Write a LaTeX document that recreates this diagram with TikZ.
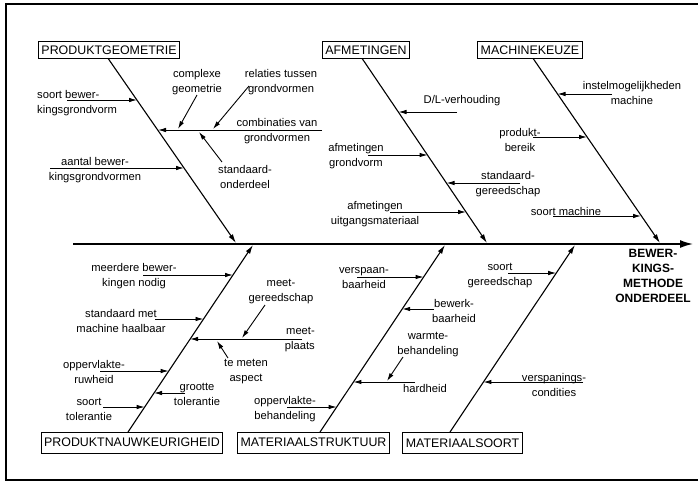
\documentclass[tikz,border=0pt]{standalone}
\usepackage{fontspec}
\setmainfont{Liberation Sans}
\usetikzlibrary{arrows.meta}
\begin{document}
\begin{tikzpicture}[x=1pt,y=-1pt,
  cause/.style={draw, line width=0.9pt, inner xsep=3pt, inner ysep=0pt, font=\fontsize{12.4}{14}\selectfont},
  causeup/.style={cause, minimum height=16.5pt},
  causedown/.style={cause, minimum height=21pt},
  lbl/.style={align=center, inner sep=0pt, font=\fontsize{11.2}{15}\selectfont},
  bone/.style={line width=1.1pt, -{Latex[length=9pt,width=5pt]}},
  sub/.style={line width=0.9pt, -{Latex[length=8pt,width=4.5pt]}},
  ]
\useasboundingbox (0,0) rectangle (698,482);
% frame
\draw[line width=1.5pt] (698,4) -- (6,4) -- (6,480) -- (698,480);

% spine
\coordinate (spS) at (73,244);
\coordinate (spE) at (693,244);
\draw[line width=1.6pt, -{Latex[length=13pt,width=8pt]}] (spS) -- (spE);
\node[font=\bfseries\fontsize{12}{15}\selectfont, align=center, inner sep=0pt] (eff) at (653,275.5) {BEWER-\\KINGS-\\METHODE\\ONDERDEEL};

% ---------- PRODUKTGEOMETRIE ----------
\node[causeup] (pg) at (109,50) {PRODUKTGEOMETRIE};
\coordinate (gS) at (108,58.3); \coordinate (gE) at (236,243);
\draw[bone] (gS) -- (gE);
\node[lbl, align=left, anchor=west] (g1) at (37,103) {soort bewer-\\kingsgrondvorm};
\coordinate (g1s) at (67,100); \coordinate (g1e) at (137,100);
\draw[sub] (g1s) -- (g1e);
\node[lbl] (g2) at (95,170.5) {aantal bewer-\\kingsgrondvormen};
\coordinate (g2s) at (50,168); \coordinate (g2e) at (184,168);
\draw[sub] (g2s) -- (g2e);
\node[lbl] (g3) at (277,131.5) {combinaties van\\grondvormen};
\coordinate (g3s) at (322,130); \coordinate (g3e) at (158,130);
\draw[sub] (g3s) -- (g3e);
\node[lbl] (g4) at (197,82) {complexe\\geometrie};
\coordinate (g4s) at (197,95); \coordinate (g4e) at (178,129);
\draw[sub] (g4s) -- (g4e);
\node[lbl] (g5) at (281,82) {relaties tussen\\grondvormen};
\coordinate (g5s) at (249,86); \coordinate (g5e) at (213,129);
\draw[sub] (g5s) -- (g5e);
\node[lbl] (g6) at (245,177) {standaard-\\onderdeel};
\coordinate (g6s) at (222,162); \coordinate (g6e) at (199,132);
\draw[sub] (g6s) -- (g6e);

% ---------- AFMETINGEN ----------
\node[causeup] (af) at (366,50) {AFMETINGEN};
\coordinate (aS) at (362,58.3); \coordinate (aE) at (487,243);
\draw[bone] (aS) -- (aE);
\node[lbl] (a1) at (462,101) {D/L-verhouding};
\coordinate (a1s) at (457,112); \coordinate (a1e) at (398.5,112);
\draw[sub] (a1s) -- (a1e);
\node[lbl] (a2) at (356,156) {afmetingen\\grondvorm};
\coordinate (a2s) at (368,155); \coordinate (a2e) at (427.6,155);
\draw[sub] (a2s) -- (a2e);
\node[lbl] (a3) at (508,184) {standaard-\\gereedschap};
\coordinate (a3s) at (520,183); \coordinate (a3e) at (446.5,183);
\draw[sub] (a3s) -- (a3e);
\node[lbl] (a4) at (375,214.5) {afmetingen\\uitgangsmateriaal};
\coordinate (a4s) at (390,212); \coordinate (a4e) at (466,212);
\draw[sub] (a4s) -- (a4e);

% ---------- MACHINEKEUZE ----------
\node[causeup] (mk) at (530,50) {MACHINEKEUZE};
\coordinate (mS) at (533,58.3); \coordinate (mE) at (660,243);
\draw[bone] (mS) -- (mE);
\node[lbl] (m1) at (632,92.5) {instelmogelijkheden\\machine};
\coordinate (m1s) at (612,94); \coordinate (m1e) at (557.5,94);
\draw[sub] (m1s) -- (m1e);
\node[lbl] (m2) at (520,139.5) {produkt-\\bereik};
\coordinate (m2s) at (533,137); \coordinate (m2e) at (587,137);
\draw[sub] (m2s) -- (m2e);
\node[lbl] (m3) at (566,211) {soort machine};
\coordinate (m3s) at (553,216); \coordinate (m3e) at (641,216);
\draw[sub] (m3s) -- (m3e);

% ---------- PRODUKTNAUWKEURIGHEID ----------
\node[causedown] (pn) at (132,442.5) {PRODUKTNAUWKEURIGHEID};
\coordinate (nS) at (128,432); \coordinate (nE) at (253,245);
\draw[bone] (nS) -- (nE);
\node[lbl] (n1) at (134,276) {meerdere bewer-\\kingen nodig};
\coordinate (n1s) at (143,275); \coordinate (n1e) at (233,275);
\draw[sub] (n1s) -- (n1e);
\node[lbl] (n2) at (121,321) {standaard met\\machine haalbaar};
\coordinate (n2s) at (155,319); \coordinate (n2e) at (203.5,319);
\draw[sub] (n2s) -- (n2e);
\node[lbl, align=right, anchor=east] (n3) at (315,340) {meet-\\plaats};
\coordinate (n3s) at (302,339); \coordinate (n3e) at (190,339);
\draw[sub] (n3s) -- (n3e);
\node[lbl] (n4) at (281,291.5) {meet-\\gereedschap};
\coordinate (n4s) at (265,305); \coordinate (n4e) at (242,338);
\draw[sub] (n4s) -- (n4e);
\node[lbl] (n5) at (246,372) {te meten\\aspect};
\coordinate (n5s) at (228,358); \coordinate (n5e) at (217,341);
\draw[sub] (n5s) -- (n5e);
\node[lbl] (n6) at (94,372) {oppervlakte-\\ruwheid};
\coordinate (n6s) at (100,371); \coordinate (n6e) at (168.7,371);
\draw[sub] (n6s) -- (n6e);
\node[lbl] (n7) at (197,394.5) {grootte\\tolerantie};
\coordinate (n7s) at (185,393); \coordinate (n7e) at (154,393);
\draw[sub] (n7s) -- (n7e);
\node[lbl] (n8) at (89,409.5) {soort\\tolerantie};
\coordinate (n8s) at (103,407); \coordinate (n8e) at (144.7,407);
\draw[sub] (n8s) -- (n8e);

% ---------- MATERIAALSTRUKTUUR ----------
\node[causedown] (ms) at (313.5,442.5) {MATERIAALSTRUKTUUR};
\coordinate (sS) at (320,432); \coordinate (sE) at (445,245);
\draw[bone] (sS) -- (sE);
\node[lbl] (s1) at (364,278.5) {verspaan-\\baarheid};
\coordinate (s1s) at (357,277); \coordinate (s1e) at (423.6,277);
\draw[sub] (s1s) -- (s1e);
\node[lbl] (s2) at (454,310.5) {bewerk-\\baarheid};
\coordinate (s2s) at (434,309); \coordinate (s2e) at (402.2,309);
\draw[sub] (s2s) -- (s2e);
\node[lbl] (s3) at (428,344.5) {warmte-\\behandeling};
\coordinate (s3s) at (403,357); \coordinate (s3e) at (387,381);
\draw[sub] (s3s) -- (s3e);
\node[lbl] (s4) at (425,388.5) {hardheid};
\coordinate (s4s) at (415,382); \coordinate (s4e) at (353.4,382);
\draw[sub] (s4s) -- (s4e);
\node[lbl] (s5) at (285,409.5) {oppervlakte-\\behandeling};
\coordinate (s5s) at (287,407); \coordinate (s5e) at (336.7,407);
\draw[sub] (s5s) -- (s5e);

% ---------- MATERIAALSOORT ----------
\node[causedown] (mso) at (462.5,443) {MATERIAALSOORT};
\coordinate (oS) at (450,432); \coordinate (oE) at (575,245);
\draw[bone] (oS) -- (oE);
\node[lbl] (o1) at (500,275.5) {soort\\gereedschap};
\coordinate (o1s) at (508,273); \coordinate (o1e) at (556.2,273);
\draw[sub] (o1s) -- (o1e);
\node[lbl] (o2) at (554,384.5) {verspanings-\\condities};
\coordinate (o2s) at (583,382); \coordinate (o2e) at (483.4,382);
\draw[sub] (o2s) -- (o2e);
\end{tikzpicture}
\end{document}
